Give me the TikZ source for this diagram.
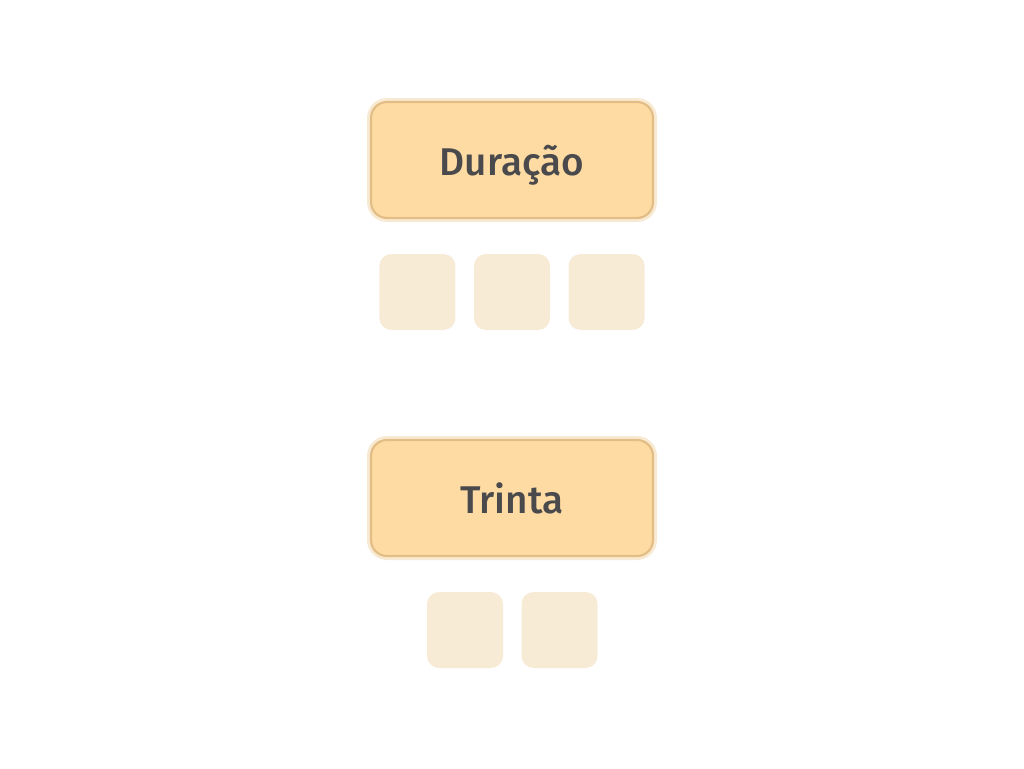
\documentclass[tikz,border=0pt]{standalone}
\usepackage{fontspec}
\setmainfont{Fira Sans}[BoldFont={Fira Sans Medium}]
\usetikzlibrary{positioning}
\definecolor{boxfill}{HTML}{FDDBA2}
\definecolor{boxline}{HTML}{E3BD86}
\definecolor{halo}{HTML}{F8EAD2}
\definecolor{slotfill}{HTML}{F8EBD5}
\definecolor{ink}{HTML}{4A4A4D}

\begin{document}
\begin{tikzpicture}[
      x=0.75pt, y=-0.75pt,
      font=\fontsize{29}{34}\selectfont\bfseries,
      box/.style={rectangle, rounded corners=12pt, fill=boxfill, draw=boxline, line width=1.6pt, text=ink,
        text height=23pt, text depth=0pt,
        minimum width=211.5pt, minimum height=87pt, preaction={draw=halo, line width=6pt}},
      slot/.style={rectangle, rounded corners=9pt, fill=slotfill, minimum size=57pt, inner sep=0pt}
    ]
      \useasboundingbox (0,0) rectangle (1024,768);
      \node (duracao) [box] at (512,160) {Duração};
      \node (d2) [slot, below=26pt of duracao] {};
      \node (d1) [slot, left=13.5pt of d2] {};
      \node (d3) [slot, right=13.5pt of d2] {};

      \node (trinta) [box] at (512,498) {Trinta};
      \node (t1) [slot, below=26pt of trinta, xshift=-35.25pt] {};
      \node (t2) [slot, right=13.5pt of t1] {};
    \end{tikzpicture}
\end{document}
